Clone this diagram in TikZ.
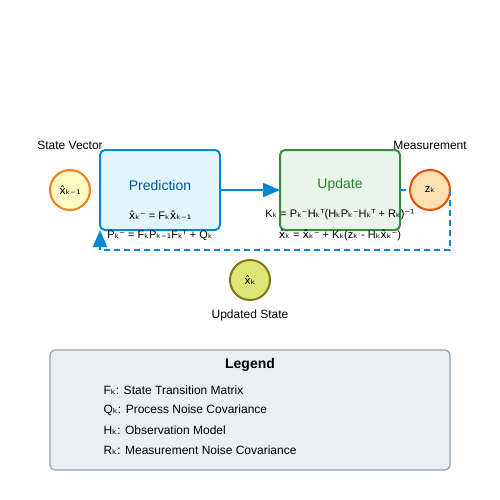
\documentclass[tikz,border=0pt]{standalone}
\usepackage{fontspec}
\setmainfont{Liberation Sans}
\newfontfamily\subfont{DejaVu Sans}
\newcommand\s[1]{{\subfont #1}}
\usetikzlibrary{arrows.meta}

\definecolor{predfill}{HTML}{E1F5FE}
\definecolor{predline}{HTML}{0288D1}
\definecolor{predtext}{HTML}{01579B}
\definecolor{updfill}{HTML}{E8F5E9}
\definecolor{updline}{HTML}{388E3C}
\definecolor{updtext}{HTML}{2E7D32}
\definecolor{statefill}{HTML}{FFF9C4}
\definecolor{stateline}{HTML}{F57F17}
\definecolor{measfill}{HTML}{FFE0B2}
\definecolor{measline}{HTML}{E65100}
\definecolor{outfill}{HTML}{DCE775}
\definecolor{outline}{HTML}{827717}
\definecolor{legfill}{HTML}{ECEFF1}
\definecolor{legline}{HTML}{90A4AE}

\begin{document}
\begin{tikzpicture}[x=1pt,y=-1pt,
    eq/.style={font=\fontsize{11}{13}\selectfont},
    label/.style={font=\fontsize{12}{14}\selectfont},
    flow/.style={draw=predline,line width=2pt,-{Triangle[length=17pt,width=14pt]}},
    back/.style={draw=predline,line width=2pt,dash pattern=on 6pt off 4pt}]

      \useasboundingbox (0,0) rectangle (500,500);

      \begin{scope}[every node/.style={draw,rounded corners=5pt,line width=2pt,minimum width=120pt,minimum height=80pt,outer sep=0pt}]
        \node[fill=predfill,draw=predline] (pred) at (160,190) {};
        \node[fill=updfill,draw=updline]   (upd)  at (340,190) {};
      \end{scope}

      \begin{scope}[every node/.style={circle,draw,line width=2pt,minimum size=40pt,inner sep=0pt,outer sep=0pt,font=\fontsize{11}{13}\selectfont}]
        \node[fill=statefill,draw=stateline] (state) at (70,190)  {\s{x̂ₖ₋₁}};
        \node[fill=measfill,draw=measline]   (meas)  at (430,190) {z\s{ₖ}};
        \node[fill=outfill,draw=outline]     (out)   at (250,280) {\s{x̂ₖ}};
      \end{scope}

      \node[text=predtext,font=\fontsize{14}{16}\selectfont] (predname) at (160,185) {Prediction};
      \node[text=updtext,font=\fontsize{14}{16}\selectfont]  (updname)  at (340,185) {Update};

      \node[eq] (xpred) at (160,215) {\s{x̂ₖ⁻} = F\s{ₖ}\s{x̂ₖ₋₁}};
      \node[eq] (ppred) at (160,235) {P\s{ₖ⁻} = F\s{ₖ}P\s{ₖ₋₁}F\s{ₖᵀ} + Q\s{ₖ}};
      \node[eq] (gain)  at (340,215) {K\s{ₖ} = P\s{ₖ⁻}H\s{ₖᵀ}(H\s{ₖ}P\s{ₖ⁻}H\s{ₖᵀ} + R\s{ₖ})\s{⁻¹}};
      \node[eq] (xupd)  at (340,235) {\s{x̂ₖ} = \s{x̂ₖ⁻} + K\s{ₖ}(z\s{ₖ} - H\s{ₖ}\s{x̂ₖ⁻})};

      \node[label] (statelab) at (70,145)  {State Vector};
      \node[label] (measlab)  at (430,145) {Measurement};
      \node[label] (outlab)   at (250,315) {Updated State};

      \coordinate (c1) at (450,250);
      \coordinate (c2) at (100,250);

      \path[flow] (pred.east) -- (upd.west);
      \path[back] (upd.east) -- (meas.west);
      \path[back] (meas.east) -- (c1) -- (c2);
      \path[flow] (c2) -- (pred.south west);

      \node[draw=legline,fill=legfill,line width=1.2pt,rounded corners=5pt,minimum width=400pt,minimum height=120pt] (legend) at (250,410) {};
      \node[font=\bfseries\fontsize{14}{16}\selectfont] (legtitle) at (250,365) {Legend};
      \begin{scope}[every node/.style={anchor=west,font=\fontsize{12}{14}\selectfont}]
        \node (legF) at (100,390) {F\s{ₖ}: State Transition Matrix};
        \node (legQ) at (100,410) {Q\s{ₖ}: Process Noise Covariance};
        \node (legH) at (100,430) {H\s{ₖ}: Observation Model};
        \node (legR) at (100,450) {R\s{ₖ}: Measurement Noise Covariance};
      \end{scope}

    \end{tikzpicture}
\end{document}
